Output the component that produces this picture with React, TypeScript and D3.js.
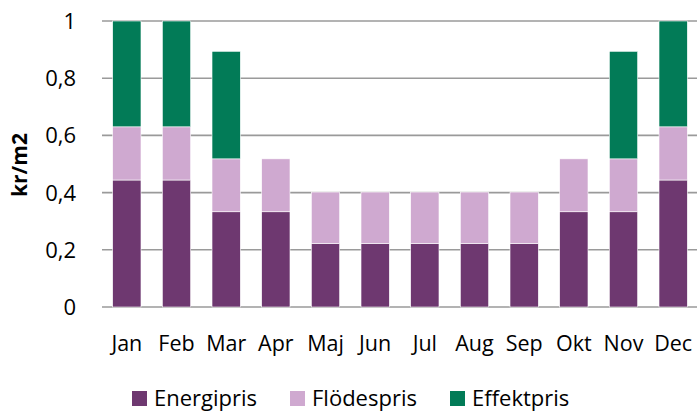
import React from "react";
import * as d3 from "d3";

const months = ["Jan", "Feb", "Mar", "Apr", "Maj", "Jun", "Jul", "Aug", "Sep", "Okt", "Nov", "Dec"];
const energipris = [0.444, 0.444, 0.333, 0.333, 0.222, 0.222, 0.222, 0.222, 0.222, 0.333, 0.333, 0.444];
const flodespris = [0.186, 0.186, 0.185, 0.185, 0.18, 0.18, 0.18, 0.18, 0.18, 0.185, 0.185, 0.186];
const effektpris = [0.37, 0.37, 0.376, 0, 0, 0, 0, 0, 0, 0, 0.376, 0.37];
const seriesNames = ["Energipris", "Flödespris", "Effektpris"];
const yTicks = [0, 0.2, 0.4, 0.6, 0.8, 1];
const yTickLabels = ["0", "0,2", "0,4", "0,6", "0,8", "1"];

const colors = ["#6E3870", "#CFA9D0", "#027B57"];
const W = 697, H = 412;
const FONT = "'Open Sans', 'Noto Sans', sans-serif";

export default function App() {
  const x = d3.scaleBand<string>().domain(months).range([102, 698]).paddingInner(0.43).paddingOuter(0.215);
  const y = d3.scaleLinear().domain([0, 1]).range([307, 21]);
  const rows = months.map((m, i) => ({ m, Energipris: energipris[i], "Flödespris": flodespris[i], Effektpris: effektpris[i] }));
  const stack = d3.stack<any>().keys(seriesNames)(rows);

  const legendX = [132, 290, 450];

  return (
    <svg width={W} height={H} style={{ position: "absolute", left: 0, top: 0, background: "#fff" }} fontFamily={FONT}>
      {yTicks.map((t, i) => (
        <g key={t}>
          <line x1={102} x2={698} y1={y(t)} y2={y(t)} stroke="#9A9A9A" strokeWidth={1.6} />
          <text x={76} y={y(t)} dy="0.36em" textAnchor="end" fontSize={22} fill="#000">{yTickLabels[i]}</text>
        </g>
      ))}
      {stack.map((s, si) => (
        <g key={s.key} fill={colors[si]}>
          {s.map((d, i) => d[1] - d[0] > 0 ? (
            <rect key={i} x={x(months[i])!} width={x.bandwidth()} y={y(Math.min(d[1], 1))} height={y(d[0]) - y(Math.min(d[1], 1))} stroke="#fff" strokeWidth={0.6} />
          ) : null)}
        </g>
      ))}
      {months.map((m) => (
        <text key={m} x={x(m)! + x.bandwidth() / 2} y={351} textAnchor="middle" fontSize={21.5} fill="#000">{m}</text>
      ))}
      <text transform="translate(27,165) rotate(-90)" textAnchor="middle" fontSize={21} fontWeight="bold" fill="#000">kr/m2</text>
      {seriesNames.map((n, i) => (
        <g key={n}>
          <rect x={legendX[i]} y={391} width={15} height={15} fill={colors[i]} />
          <text x={legendX[i] + 22} y={398.5} dy="0.36em" fontSize={22} fill="#000">{n}</text>
        </g>
      ))}
    </svg>
  );
}
